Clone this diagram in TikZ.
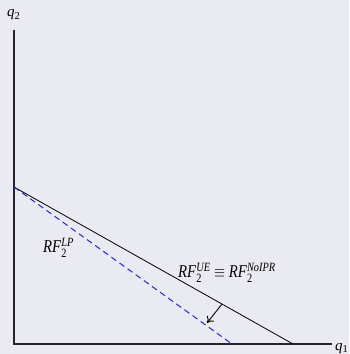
\documentclass[tikz,border=0pt]{standalone}
\usepackage{amsmath}
\usepackage{fontspec}
\setmainfont{Liberation Serif}
\usepackage{tikz}
\usetikzlibrary{arrows.meta,positioning,calc}
\definecolor{bgpanel}{RGB}{234,234,242}
\definecolor{lpblue}{RGB}{45,35,205}
\newcommand{\RFlab}[1]{\textit{RF}$_{\textrm{2}}^{\textit{#1}}$}

\begin{document}
\begin{tikzpicture}[
    x=1pt, y=1pt,
    axis/.style={line width=1.3pt, black!85},
    curve/.style={line width=0.8pt, black},
    lpcurve/.style={line width=1pt, lpblue, dash pattern=on 6pt off 4pt},
    shiftarrow/.style={-{To[length=6pt,width=9pt]}, line width=0.9pt},
    lab/.style={inner sep=0pt, anchor=base west, xscale=0.82, transform shape,
      font=\fontsize{18}{21}\selectfont},
    axlab/.style={inner sep=0pt, anchor=base west, font=\fontsize{15}{18}\selectfont},
  ]

  % Background panel
  \fill[bgpanel] (0,0) rectangle (349,354);
  \useasboundingbox (0,0) rectangle (349,354);

  % Axes
  \coordinate (O) at (14,10);
  \coordinate (ytop) at (14,324);
  \coordinate (xend) at (332,10);
  \draw[axis] (ytop) -- (O) -- (xend);
  \node[axlab] (q2) at (7,337) {\textit{q}$_{\textrm{2}}$};
  \node[axlab] (q1) at (335,4) {\textit{q}$_{\textrm{1}}$};

  % Reaction functions
  \coordinate (A) at (14,167);
  \coordinate (B) at (293,10);
  \coordinate (C) at (232,10);
  \draw[curve] (A) -- (B);
  \draw[lpcurve] (A) -- (C);

  % Shift arrow
  \coordinate (s1) at ($(A)!0.7455!(B)$);
  \coordinate (s2) at (207,31);
  \draw[shiftarrow] (s1) -- (s2);

  % Labels
  \node[lab] (lp) at (43,101) {\RFlab{LP}};
  \node[lab] (ue) at (178,76) {\RFlab{UE} $\equiv$ \RFlab{NoIPR}};

\end{tikzpicture}
\end{document}
